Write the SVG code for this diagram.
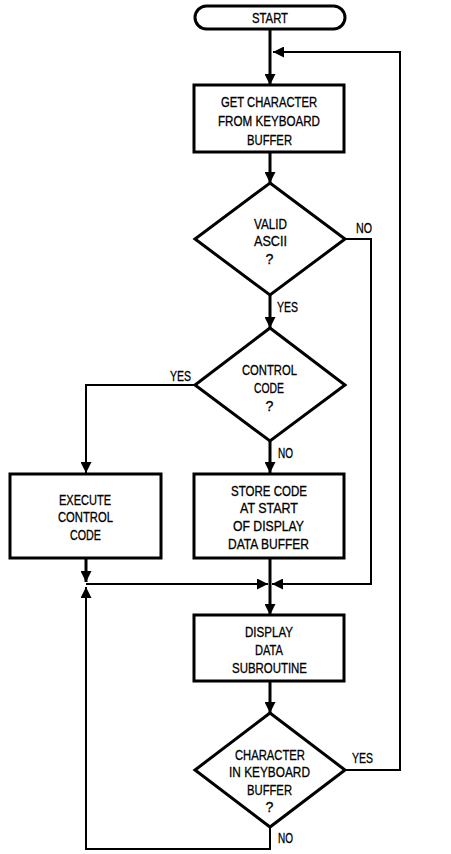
<svg xmlns="http://www.w3.org/2000/svg" width="451" height="854" viewBox="0 0 451 854">
<style>
.s{fill:#fff;stroke:#000;stroke-width:3;stroke-linejoin:miter}
.c{fill:none;stroke:#000;stroke-width:2}
.t{stroke-width:3}
text{font-family:"Liberation Sans",Arial,sans-serif;font-size:14.2px;fill:#000;stroke:#000;stroke-width:0.3;text-anchor:middle}
.l{text-anchor:start}
</style>
<defs>
<marker id="a" markerUnits="userSpaceOnUse" markerWidth="11" markerHeight="11" refX="11" refY="5.5" orient="auto">
<path d="M0,0 L11,5.5 L0,11 z" fill="#000"/>
</marker>
</defs>
<rect width="451" height="854" fill="#fff"/>
<g id="connectors">
<path class="c t" d="M270,29 V85" marker-end="url(#a)"/>
<path class="c t" d="M270,152 V183" marker-end="url(#a)"/>
<path class="c t" d="M270,295 V328" marker-end="url(#a)"/>
<path class="c" d="M345,239 H371 V584 H272" marker-end="url(#a)"/>
<path class="c" d="M195,385 H86 V473" marker-end="url(#a)"/>
<path class="c t" d="M270,441 V473" marker-end="url(#a)"/>
<path class="c t" d="M86,558 V582" marker-end="url(#a)"/>
<path class="c" d="M86,584 H268" marker-end="url(#a)"/>
<path class="c t" d="M270,558 V615" marker-end="url(#a)"/>
<path class="c t" d="M270,681 V713" marker-end="url(#a)"/>
<path class="c" d="M345,770 H400 V52 H273" marker-end="url(#a)"/>
<path class="c" d="M270,827 V849 H86 V587" marker-end="url(#a)"/>
</g>
<g id="start">
<rect class="s" x="195" y="6" width="150" height="23" rx="11.5"/>
<text x="270" y="23" textLength="36" lengthAdjust="spacingAndGlyphs">START</text>
</g>
<g id="get">
<rect class="s" x="194" y="85" width="150" height="67"/>
<text x="269" y="107" textLength="96" lengthAdjust="spacingAndGlyphs">GET CHARACTER</text>
<text x="269" y="126" textLength="102" lengthAdjust="spacingAndGlyphs">FROM KEYBOARD</text>
<text x="269.5" y="145" textLength="45" lengthAdjust="spacingAndGlyphs">BUFFER</text>
</g>
<g id="valid">
<path class="s" d="M270,183 L345,239 L270,295 L195,239 Z"/>
<text x="270.5" y="229" textLength="33" lengthAdjust="spacingAndGlyphs">VALID</text>
<text x="270.5" y="246" textLength="33" lengthAdjust="spacingAndGlyphs">ASCII</text>
<text x="269.5" y="264">?</text>
<text class="l" x="356" y="233" textLength="16" lengthAdjust="spacingAndGlyphs">NO</text>
<text class="l" x="277" y="312" textLength="21" lengthAdjust="spacingAndGlyphs">YES</text>
</g>
<g id="control">
<path class="s" d="M270,328 L345,385 L270,441 L195,385 Z"/>
<text x="269.5" y="375" textLength="55" lengthAdjust="spacingAndGlyphs">CONTROL</text>
<text x="269" y="393" textLength="30" lengthAdjust="spacingAndGlyphs">CODE</text>
<text x="269.5" y="411">?</text>
<text class="l" x="170" y="381" textLength="21" lengthAdjust="spacingAndGlyphs">YES</text>
<text class="l" x="278" y="458" textLength="15" lengthAdjust="spacingAndGlyphs">NO</text>
</g>
<g id="execute">
<rect class="s" x="10" y="474" width="151" height="84"/>
<text x="85" y="505" textLength="52" lengthAdjust="spacingAndGlyphs">EXECUTE</text>
<text x="85.5" y="522" textLength="55" lengthAdjust="spacingAndGlyphs">CONTROL</text>
<text x="85.5" y="540" textLength="31" lengthAdjust="spacingAndGlyphs">CODE</text>
</g>
<g id="store">
<rect class="s" x="194" y="474" width="150" height="84"/>
<text x="269" y="496" textLength="76" lengthAdjust="spacingAndGlyphs">STORE CODE</text>
<text x="269" y="513" textLength="58" lengthAdjust="spacingAndGlyphs">AT START</text>
<text x="268.5" y="531" textLength="71" lengthAdjust="spacingAndGlyphs">OF DISPLAY</text>
<text x="268.5" y="549" textLength="81" lengthAdjust="spacingAndGlyphs">DATA BUFFER</text>
</g>
<g id="display">
<rect class="s" x="194" y="615" width="150" height="66"/>
<text x="269" y="637" textLength="48" lengthAdjust="spacingAndGlyphs">DISPLAY</text>
<text x="269" y="655" textLength="28" lengthAdjust="spacingAndGlyphs">DATA</text>
<text x="269.5" y="673" textLength="75" lengthAdjust="spacingAndGlyphs">SUBROUTINE</text>
</g>
<g id="charin">
<path class="s" d="M270,713 L345,770 L270,827 L195,770 Z"/>
<text x="270" y="760" textLength="70" lengthAdjust="spacingAndGlyphs">CHARACTER</text>
<text x="269.5" y="777" textLength="81" lengthAdjust="spacingAndGlyphs">IN KEYBOARD</text>
<text x="269.5" y="795" textLength="45" lengthAdjust="spacingAndGlyphs">BUFFER</text>
<text x="269.5" y="812">?</text>
<text class="l" x="352" y="763" textLength="21" lengthAdjust="spacingAndGlyphs">YES</text>
<text class="l" x="278" y="843" textLength="15" lengthAdjust="spacingAndGlyphs">NO</text>
</g>
</svg>
